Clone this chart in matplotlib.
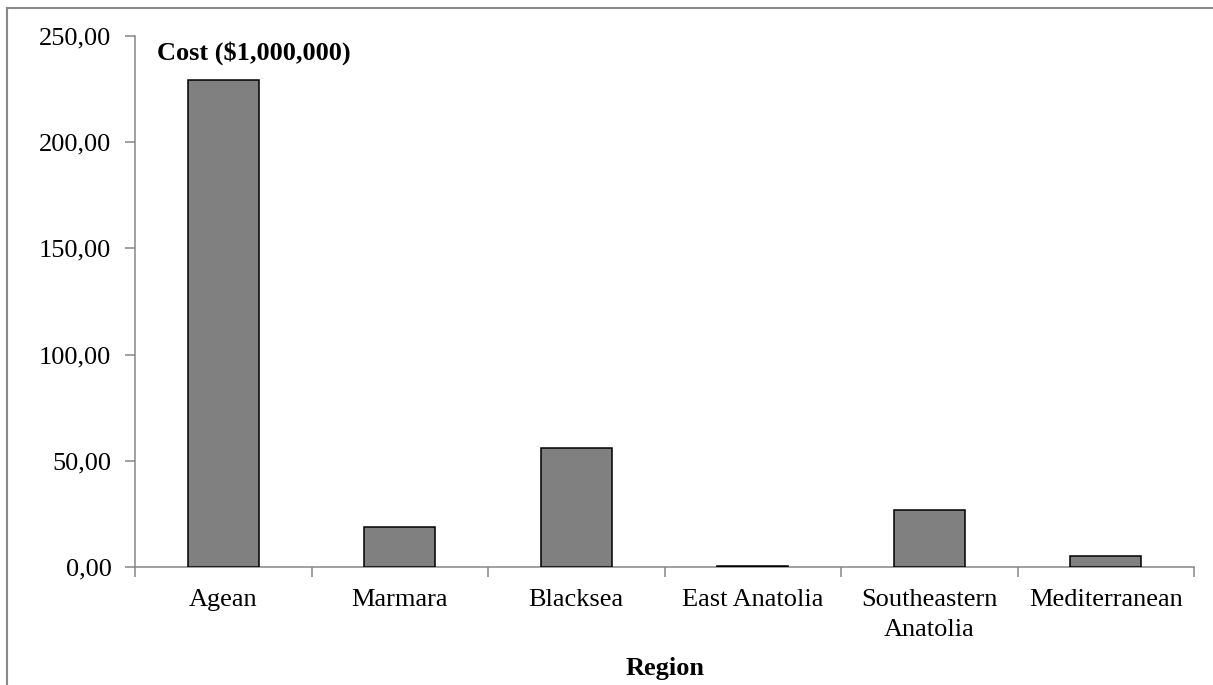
import matplotlib
matplotlib.use("Agg")
import matplotlib.pyplot as plt
from matplotlib.ticker import FuncFormatter, FixedLocator
from matplotlib.lines import Line2D

regions = ["Agean", "Marmara", "Blacksea", "East Anatolia", "Southeastern\nAnatolia", "Mediterranean"]
costs = [229.3, 18.6, 55.8, 0.4, 27.0, 5.2]
yticks = [0, 50, 100, 150, 200, 250]

plt.rcParams['font.family'] = ['Liberation Serif', 'DejaVu Serif']
FS = 19

fig = plt.figure(figsize=(12.13, 6.85), dpi=100)
ax = fig.add_axes([135/1213, 1-567/685, (1194-135)/1213, (567-36)/685])

x = list(range(len(regions)))
ax.bar(x, costs, width=0.4, color='#808080', edgecolor='black', linewidth=1.1, zorder=3)

ax.set_xlim(-0.5, len(regions)-0.5)
ax.set_ylim(0, 250)
ax.yaxis.set_major_locator(FixedLocator(yticks))
ax.yaxis.set_major_formatter(FuncFormatter(lambda v, p: f"{v:.2f}".replace('.', ',')))

ax.set_xticks(x)
ax.set_xticklabels(regions, fontsize=FS, linespacing=1.45)
ax.set_xticks([i - 0.5 for i in range(len(regions)+1)], minor=True)
ax.tick_params(axis='x', which='major', length=0, pad=16)
ax.tick_params(axis='x', which='minor', length=7, width=1.1, color='#868686', direction='out')
ax.tick_params(axis='y', length=7, width=1.1, color='#868686', direction='out', labelsize=FS, pad=10)

for s in ['top', 'right']:
    ax.spines[s].set_visible(False)
for s in ['left', 'bottom']:
    ax.spines[s].set_color('#868686')
    ax.spines[s].set_linewidth(1.1)

fig.text(157/1213, 1-53/685, "Cost ($1,000,000)", fontsize=FS, fontweight='bold', ha='left', va='center')
fig.text(665/1213, 1-669/685, "Region", fontsize=FS, fontweight='bold', ha='center', va='center')

# outer frame (top and left visible)
fig.add_artist(Line2D([7/1213, 7/1213], [0, 1-8/685], transform=fig.transFigure, color='#888888', linewidth=1.5))
fig.add_artist(Line2D([7/1213, 1], [1-8/685, 1-8/685], transform=fig.transFigure, color='#888888', linewidth=1.5))

fig.savefig("out.png", dpi=100)
